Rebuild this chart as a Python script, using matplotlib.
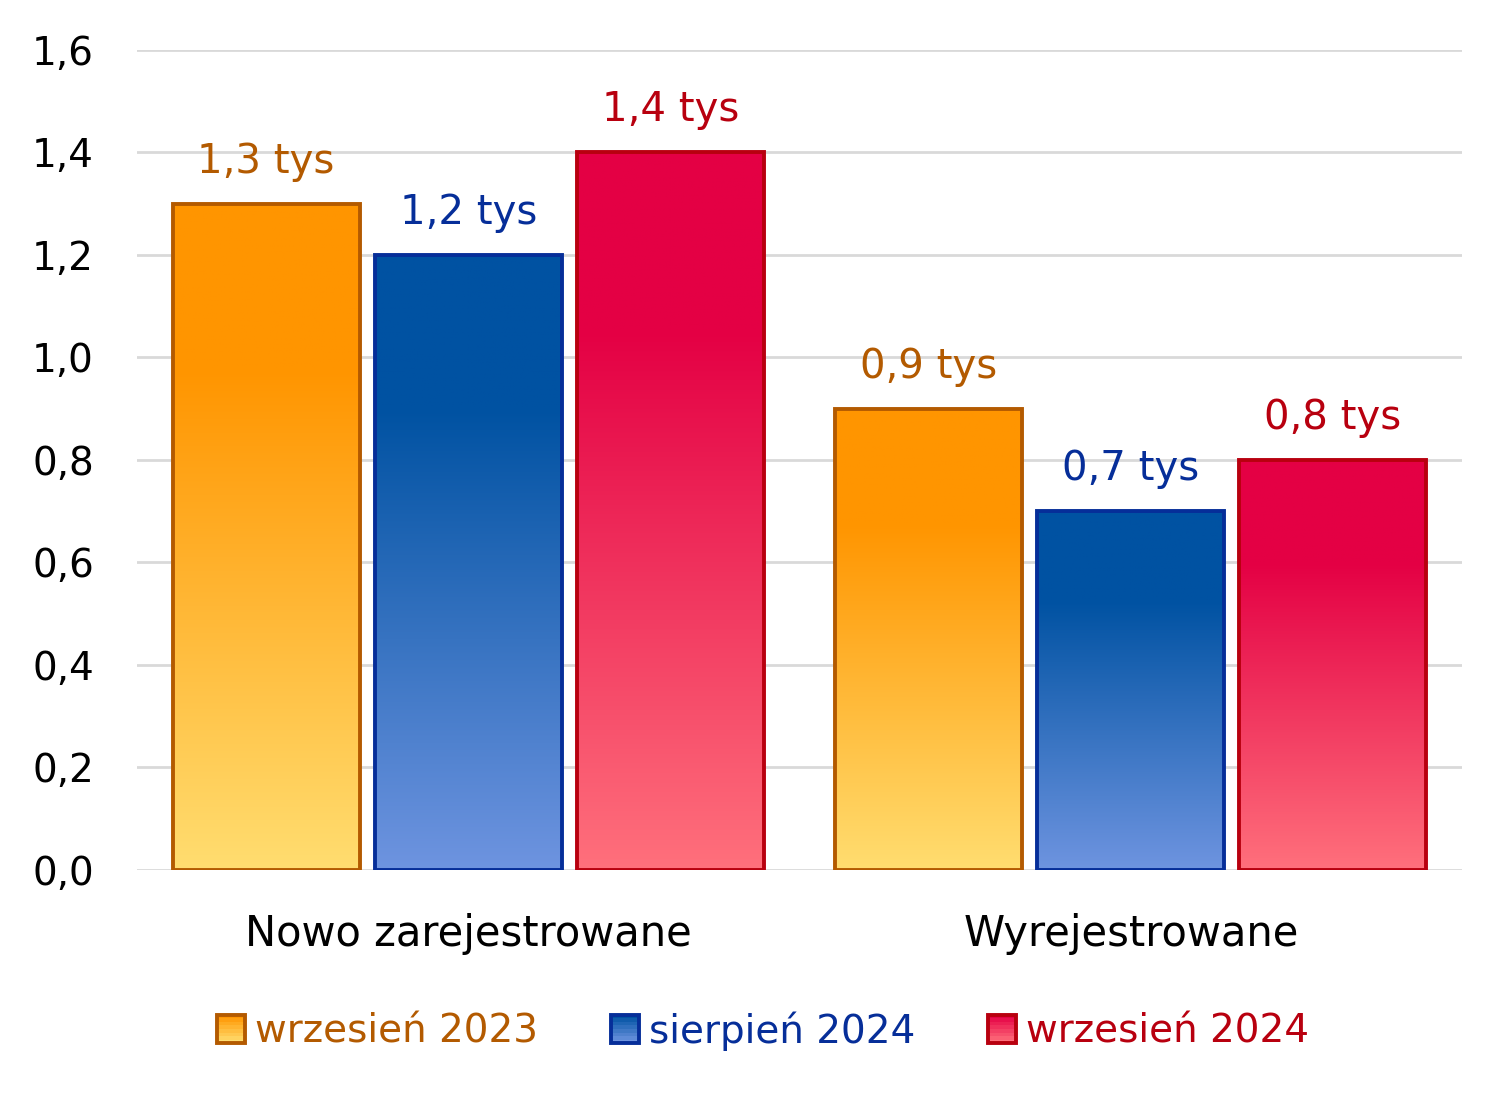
import numpy as np
import matplotlib
matplotlib.use("Agg")
import matplotlib.pyplot as plt
from matplotlib.colors import LinearSegmentedColormap, to_rgb
from matplotlib.patches import Rectangle
from matplotlib.legend_handler import HandlerBase

# Data
categories = ["Nowo zarejestrowane", "Wyrejestrowane"]
series = ["wrzesień 2023", "sierpień 2024", "wrzesień 2024"]
values = {
    "wrzesień 2023": [1.3, 0.9],
    "sierpień 2024": [1.2, 0.7],
    "wrzesień 2024": [1.4, 0.8],
}
yticks = [0.0, 0.2, 0.4, 0.6, 0.8, 1.0, 1.2, 1.4, 1.6]

# Styles: (top colour, bottom colour, edge / text colour)
styles = {
    "wrzesień 2023": ("#FF9500", "#FFDD70", "#B35A00"),
    "sierpień 2024": ("#0052A2", "#6E94E0", "#062E99"),
    "wrzesień 2024": ("#E40044", "#FF707C", "#B8000F"),
}

plt.rcParams["font.family"] = ["DejaVu Sans"]

fig = plt.figure(figsize=(15.12, 10.99), dpi=100)
ax = fig.add_axes([0.0906, 0.2084, 0.8764, 0.7461])

x = np.arange(len(categories))
width = 0.282
step = 0.305


def gradient_cmap(top, bottom):
    return LinearSegmentedColormap.from_list(
        "g", [(0.0, to_rgb(bottom)), (0.75, to_rgb(top)), (1.0, to_rgb(top))])


grad = np.linspace(0, 1, 256).reshape(-1, 1)

for i, s in enumerate(series):
    top, bottom, edge = styles[s]
    cmap = gradient_cmap(top, bottom)
    pos = x + (i - 1) * step
    bars = ax.bar(pos, values[s], width, color="none", edgecolor=edge,
                  linewidth=2.8, zorder=4)
    for b, v in zip(bars, values[s]):
        x0, w = b.get_x(), b.get_width()
        im = ax.imshow(grad, cmap=cmap, origin="lower", aspect="auto",
                       extent=[x0, x0 + w, 0, v], zorder=3)
        im.set_clip_path(b)
        ax.annotate(f"{v:.1f}".replace(".", ",") + " tys",
                    (x0 + w / 2, v), xytext=(0, 16), textcoords="offset points",
                    ha="center", va="bottom", fontsize=29, color=edge)

ax.set_xlim(-0.5, 1.5)
ax.set_ylim(0, 1.6)
ax.set_yticks(yticks)
ax.set_yticklabels([f"{t:.1f}".replace(".", ",") for t in yticks], fontsize=28)
ax.set_xticks(x)
ax.set_xticklabels(categories, fontsize=30)
ax.tick_params(axis="y", length=0, pad=31)
ax.tick_params(axis="x", length=0, pad=31)
ax.grid(axis="y", color="#D9D9D9", linewidth=2, zorder=0)
ax.set_axisbelow(True)
for sp in ax.spines.values():
    sp.set_visible(False)


class GradientHandler(HandlerBase):
    def __init__(self, top, bottom, edge):
        super().__init__()
        self.top, self.bottom, self.edge = top, bottom, edge

    def create_artists(self, legend, orig_handle, xdescent, ydescent,
                       width, height, fontsize, trans):
        size = height * 1.05
        x0 = -xdescent + width - size
        y0 = -ydescent + (height - size) / 2
        arts = []
        n = 8
        c0, c1 = np.array(to_rgb(self.top)), np.array(to_rgb(self.bottom))
        for k in range(n):
            f = k / (n - 1)
            col = c1 * (1 - f) + c0 * f
            arts.append(Rectangle((x0, y0 + size * k / n), size, size / n,
                                  facecolor=col, edgecolor="none",
                                  transform=trans))
        arts.append(Rectangle((x0, y0), size, size, facecolor="none",
                              edgecolor=self.edge, linewidth=2.8,
                              transform=trans))
        return arts


handles = [Rectangle((0, 0), 1, 1) for _ in series]
handler_map = {h: GradientHandler(*styles[s]) for h, s in zip(handles, series)}
leg = fig.legend(handles, series, loc="center", bbox_to_anchor=(0.505, 0.062),
                 ncol=3, frameon=False, fontsize=28, handler_map=handler_map,
                 handlelength=0.7, handletextpad=0.25, columnspacing=1.9)
for t, s in zip(leg.get_texts(), series):
    t.set_color(styles[s][2])

fig.savefig("out.png", dpi=100)
